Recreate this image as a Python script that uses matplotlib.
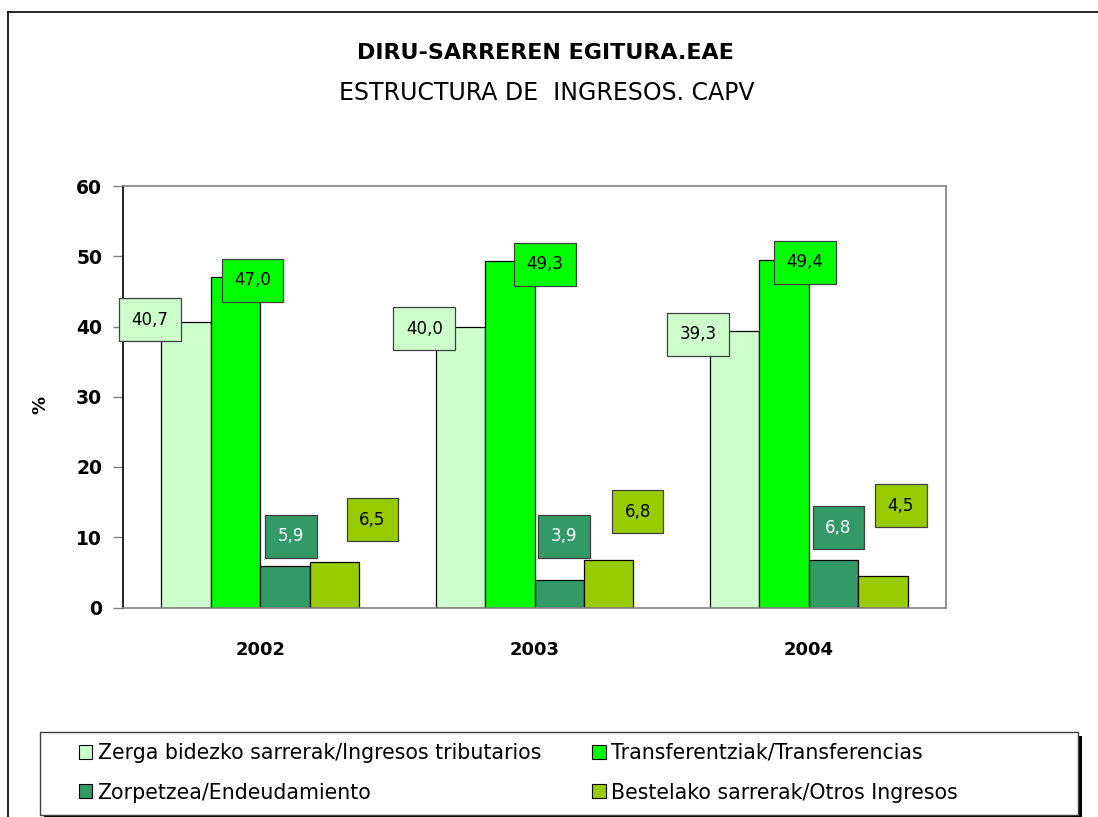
import matplotlib
matplotlib.use("Agg")
import matplotlib.pyplot as plt
from matplotlib.patches import Rectangle, Patch
from matplotlib.lines import Line2D
import numpy as np

years = ["2002", "2003", "2004"]
series_names = [
    "Zerga bidezko sarrerak/Ingresos tributarios",
    "Transferentziak/Transferencias",
    "Zorpetzea/Endeudamiento",
    "Bestelako sarrerak/Otros Ingresos",
]
tributarios = [40.7, 40.0, 39.3]
transferencias = [47.0, 49.3, 49.4]
endeudamiento = [5.9, 3.9, 6.8]
otros = [6.5, 6.8, 4.5]

colors = ["#CCFFCC", "#00FF00", "#339966", "#99CC00"]
label_text_colors = ["black", "black", "white", "black"]
# label box offsets (pixels) relative to bar top, per series per year
label_offsets = [
    [(-36, 2), (-36, -2), (-37, -3)],
    [(17, -3), (35, -3), (21, -2)],
    [(6, 30), (5, 44), (5, 32)],
    [(38, 42), (29, 48), (18, 70)],
]

W, H = 1098, 817
fig = plt.figure(figsize=(W / 100, H / 100), dpi=100)
plt.rcParams['font.family'] = ['DejaVu Sans']

def fx(x):
    return x / W

def fy(y):
    return 1 - y / H

ax = fig.add_axes([fx(123), fy(607.5), fx(946) - fx(123), fy(186) - fy(607.5)])

data = [tributarios, transferencias, endeudamiento, otros]
x = np.arange(len(years))
bw = 0.18
offs = [-1.5 * bw, -0.5 * bw, 0.5 * bw, 1.5 * bw]
for i, vals in enumerate(data):
    ax.bar(x + offs[i], vals, bw, color=colors[i], edgecolor="black", linewidth=0.9, zorder=2)
    for j, v in enumerate(vals):
        dx, dy = label_offsets[i][j]
        ax.annotate(f"{v:.1f}".replace(".", ","), xy=(x[j] + offs[i], v),
                    xytext=(dx, dy), textcoords="offset pixels",
                    ha="center", va="center", fontsize=12, color=label_text_colors[i],
                    bbox=dict(boxstyle="square,pad=0.75", facecolor=colors[i],
                              edgecolor="#404040", linewidth=0.9), zorder=5)

ax.set_xlim(-0.5, 2.5)
ax.set_ylim(0, 60)
ax.set_yticks(range(0, 61, 10))
ax.set_xticks(x)
ax.set_xticklabels(years, fontsize=13, fontweight="bold")
ax.tick_params(axis="x", length=0, pad=24)
ax.tick_params(axis="y", length=7, color="#808080", width=1, pad=8, labelsize=13.5)
for lab in ax.get_yticklabels():
    lab.set_fontweight("bold")
ax.spines["left"].set_color("black")
ax.spines["bottom"].set_color("#808080")
ax.spines["top"].set_color("#808080")
ax.spines["right"].set_color("#808080")
for s in ax.spines.values():
    s.set_linewidth(1.2)

fig.text(fx(40), fy(405), "%", rotation=90, ha="center", va="center",
         fontsize=13, fontweight="bold")

fig.text(fx(545), fy(53), "DIRU-SARREREN EGITURA.EAE", ha="center", va="center",
         fontsize=16, fontweight="bold")
fig.text(fx(547), fy(93), "ESTRUCTURA DE  INGRESOS. CAPV", ha="center", va="center",
         fontsize=17)

# outer border
fig.add_artist(Line2D([fx(8), fx(8)], [fy(12), 0], color="black", linewidth=1.2))
fig.add_artist(Line2D([fx(8), 1], [fy(12), fy(12)], color="black", linewidth=1.2))

# legend frame with shadow
fig.add_artist(Rectangle((fx(44), fy(819)), fx(1082) - fx(44), fy(736) - fy(819),
                         transform=fig.transFigure, facecolor="black", edgecolor="none", zorder=1))
fig.add_artist(Rectangle((fx(40), fy(815)), fx(1078) - fx(40), fy(732) - fy(815),
                         transform=fig.transFigure, facecolor="white", edgecolor="#404040",
                         linewidth=1, zorder=2))

order = [0, 2, 1, 3]
handles = [Patch(facecolor=colors[k], edgecolor="black", linewidth=0.8) for k in order]
labels = [series_names[k] for k in order]
leg = fig.legend(handles, labels, ncol=2, loc="upper left",
                 bbox_to_anchor=(fx(79), fy(743)), frameon=False, fontsize=14.8,
                 borderpad=0, handlelength=0.65, handleheight=0.65, handletextpad=0.25,
                 columnspacing=2.5, labelspacing=0.95, borderaxespad=0)
leg.set_zorder(3)

fig.savefig("out.png", dpi=100)
